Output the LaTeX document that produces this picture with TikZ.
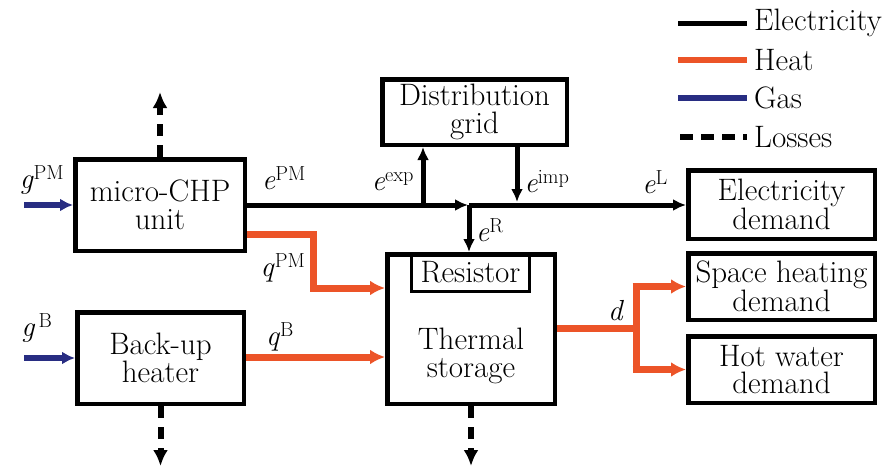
\documentclass[tikz,border=0pt]{standalone}
\usepackage{fontspec}
\setmainfont{Latin Modern Roman}
\usetikzlibrary{arrows.meta,calc}
\definecolor{heatc}{RGB}{236,84,40}
\definecolor{gasc}{RGB}{40,45,130}
\newcommand{\mainfs}{\rmfamily\fontsize{31}{27.5}\selectfont}
\newcommand{\labfs}{\rmfamily\fontsize{29}{29}\selectfont}
\newcommand{\flowlab}[2]{\textit{#1}\textsuperscript{#2}}
\tikzset{
  box/.style={draw, line width=4.5pt, inner sep=0pt, align=center, font=\mainfs},
  thinbox/.style={draw, line width=3pt, inner sep=0pt, align=center, font=\mainfs},
  txt/.style={inner sep=0pt, align=center, font=\mainfs},
  lab/.style={inner sep=0pt, font=\labfs},
  elecline/.style={line width=5pt, draw=black, -{Latex[length=13pt,width=12pt]}},
  heatline/.style={line width=7pt, draw=heatc, -{Latex[length=15pt,width=15pt]}},
  gasline/.style={line width=6pt, draw=gasc, -{Latex[length=13pt,width=13pt]}},
  lossline/.style={line width=6pt, draw=black, dash pattern=on 12pt off 9pt, -{Latex[length=16pt,width=15pt]}},
}
\begin{document}
\begin{tikzpicture}[x=1pt,y=-1pt]
\useasboundingbox (0,0) rectangle (883,471);
% boxes
\node[box, minimum width=169.5pt, minimum height=91.5pt] (chp) at (160,205) {micro-CHP\\unit};
\node[box, minimum width=166.5pt, minimum height=91.5pt] (backup) at (160.5,358) {Back-up\\heater};
\node[box, minimum width=184.5pt, minimum height=65.5pt] (grid) at (474.5,112) {Distribution\\grid};
\node[box, minimum width=167.5pt, minimum height=149.5pt] (storage) at (471,329) {};
\node[thinbox, minimum width=118pt, minimum height=38pt] (resistor) at (470.5,272.5) {Resistor};
\node[txt] (storagetext) at (471,356) {Thermal\\storage};
\node[box, minimum width=186.5pt, minimum height=68.5pt] (elec) at (781.5,204.5) {Electricity\\demand};
\node[box, minimum width=186.5pt, minimum height=66.5pt] (space) at (781.5,286.5) {Space heating\\demand};
\node[box, minimum width=186.5pt, minimum height=66.5pt] (hot) at (781.5,369.5) {Hot water\\demand};
% coordinates
\coordinate (J) at (469,205);
\coordinate (X) at (423,205);
\coordinate (I) at (517,202);
\coordinate (G1) at (24,205);
\coordinate (G2) at (24,358);
\coordinate (L1) at (160,92);
\coordinate (L2) at (160.5,466);
\coordinate (L3) at (471,466);
\coordinate (Q1) at (313,234);
\coordinate (D) at (636,328);
% electricity
\draw[elecline] (chp.east) -- ([xshift=-1pt]J);
\draw[elecline] (J) -- (J -| elec.west);
\draw[elecline] (X) -- (X |- grid.south);
\draw[elecline] (I |- grid.south) -- (I);
\draw[elecline] (J) -- (J |- storage.north);
% gas
\draw[gasline] (G1) -- (chp.west);
\draw[gasline] (G2) -- (backup.west);
% heat
\draw[heatline] (chp.east |- Q1) -- (Q1) -- (Q1 |- 0,288) -- (storage.west |- 0,288);
\draw[heatline] (backup.east |- 0,357) -- (storage.west |- 0,357);
\draw[line width=7pt, draw=heatc] (storage.east |- D) -- (D);
\draw[line width=7pt, draw=heatc] (D |- space.west) -- (D |- hot.west);
\draw[heatline] ([xshift=-3.5pt]D |- space.west) -- (space.west);
\draw[heatline] ([xshift=-3.5pt]D |- hot.west) -- (hot.west);
% losses
\draw[lossline] (chp.north) -- (L1);
\draw[lossline] (backup.south) -- (L2);
\draw[lossline] (storage.south) -- (L3);
% labels
\node[lab] (lgpm) at (42,180) {\flowlab{g}{PM}};
\node[lab] (lepm) at (284,178) {\flowlab{e}{PM}};
\node[lab] (lexp) at (393,182) {\flowlab{e}{exp}};
\node[lab] (limp) at (547,182) {\flowlab{e}{imp}};
\node[lab] (lel) at (655,182) {\flowlab{e}{L}};
\node[lab] (ler) at (490,230) {\flowlab{e}{R}};
\node[lab] (lqpm) at (283,268) {\flowlab{q}{PM}};
\node[lab] (lqb) at (280,337) {\flowlab{q}{B}};
\node[lab] (lgb) at (37,328) {\flowlab{g}{\,B}};
\node[lab] (ld) at (616,311) {\textit{d}};
% legend
\coordinate (a1) at (678,23); \coordinate (b1) at (747,23);
\coordinate (a2) at (678,60); \coordinate (b2) at (747,60);
\coordinate (a3) at (678,98); \coordinate (b3) at (747,98);
\coordinate (a4) at (680,137); \coordinate (b4) at (747,137);
\draw[line width=5pt] (a1) -- (b1);
\draw[line width=6pt, heatc] (a2) -- (b2);
\draw[line width=6pt, gasc] (a3) -- (b3);
\draw[line width=6pt, dash pattern=on 13pt off 8pt] (a4) -- (b4);
\node[txt, anchor=west] (leg1) at (754,23) {Electricity};
\node[txt, anchor=west] (leg2) at (754,60) {Heat};
\node[txt, anchor=west] (leg3) at (754,98) {Gas};
\node[txt, anchor=west] (leg4) at (754,137) {Losses};
\end{tikzpicture}
\end{document}
